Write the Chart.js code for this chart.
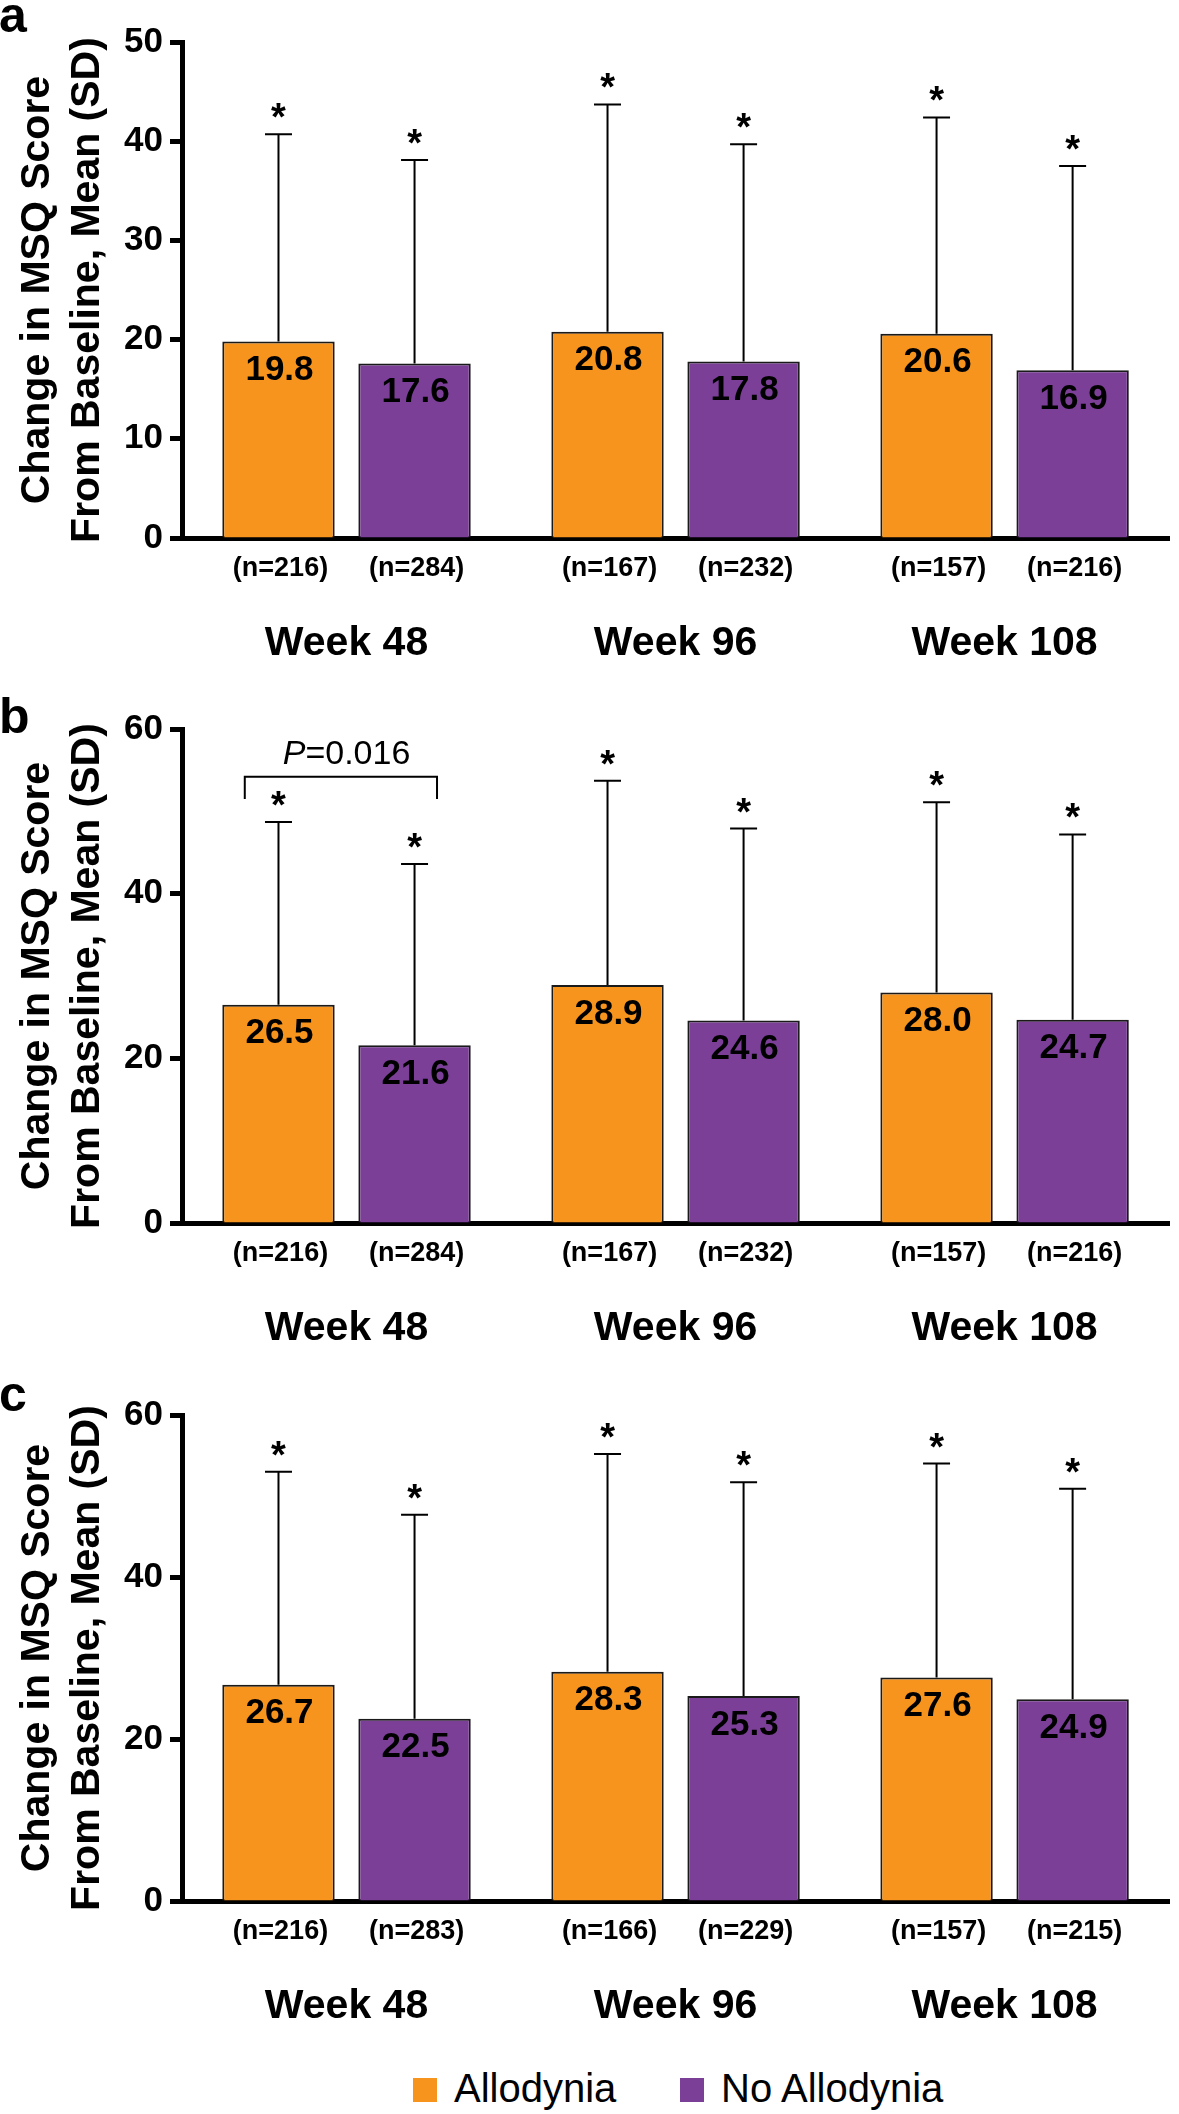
<!DOCTYPE html>
<html>
<head>
<meta charset="utf-8">
<title>MSQ change by allodynia status</title>
<script src="https://cdn.jsdelivr.net/npm/chart.js@4.4.1/dist/chart.umd.min.js"></script>
<style>
  html, body { margin: 0; padding: 0; background: #fff; }
  body { position: relative; width: 1179px; height: 2114px; overflow: hidden; font-family: 'Liberation Sans', Arial, sans-serif; }
  canvas { position: absolute; left: 0; }
  .leg-box { position: absolute; width: 24px; height: 24px; top: 2078px; }
  .leg-txt { position: absolute; top: 2068px; font-size: 40px; line-height: 40px; color: #000; white-space: nowrap; }
</style>
</head>
<body>
<canvas id="chartA" width="1179" height="680" style="top:0px"></canvas>
<canvas id="chartB" width="1179" height="680" style="top:690px"></canvas>
<canvas id="chartC" width="1179" height="665" style="top:1375px"></canvas>

<div class="leg-box" style="left:413px;background:#F7941D"></div>
<div class="leg-txt" style="left:454px">Allodynia</div>
<div class="leg-box" style="left:680px;background:#7B3F98"></div>
<div class="leg-txt" style="left:721px">No Allodynia</div>

<script>
/* ===== Daten ===== */
const WEEKS = ['Week 48', 'Week 96', 'Week 108'];

// Panel a
const A_ALLO_MEAN = [19.8, 20.8, 20.6];
const A_ALLO_SD   = [20.9, 22.9, 21.8];
const A_NO_MEAN   = [17.6, 17.8, 16.9];
const A_NO_SD     = [20.5, 21.9, 20.6];
const A_ALLO_N    = [216, 167, 157];
const A_NO_N      = [284, 232, 216];
const A_Y_TICKS   = [0, 10, 20, 30, 40, 50];

// Panel b
const B_ALLO_MEAN = [26.5, 28.9, 28.0];
const B_ALLO_SD   = [22.2, 24.8, 23.1];
const B_NO_MEAN   = [21.6, 24.6, 24.7];
const B_NO_SD     = [22.0, 23.3, 22.5];
const B_ALLO_N    = [216, 167, 157];
const B_NO_N      = [284, 232, 216];
const B_Y_TICKS   = [0, 20, 40, 60];

// Panel c
const C_ALLO_MEAN = [26.7, 28.3, 27.6];
const C_ALLO_SD   = [26.3, 26.9, 26.4];
const C_NO_MEAN   = [22.5, 25.3, 24.9];
const C_NO_SD     = [25.2, 26.4, 26.0];
const C_ALLO_N    = [216, 166, 157];
const C_NO_N      = [283, 229, 215];
const C_Y_TICKS   = [0, 20, 40, 60];

const Y_TITLE = ['Change in MSQ Score', 'From Baseline, Mean (SD)'];

/* ---------- Theme ---------- */
const FONT = "'Liberation Sans', Arial, sans-serif";
const ORANGE = '#F7941D';
const PURPLE = '#7B3F98';
const INK = '#000';

Chart.defaults.font.family = FONT;
Chart.defaults.color = INK;

// Fehlerbalken (nur nach oben), Sterne, Werte in den Balken, n-Angaben, Panel-Buchstabe
const overlay = {
  id: 'overlay',
  afterDatasetsDraw(chart, args, opts) {
    const { ctx, chartArea } = chart;
    const y = chart.scales.y;
    ctx.save();
    ctx.fillStyle = INK;
    ctx.strokeStyle = INK;
    ctx.textAlign = 'center';
    chart.data.datasets.forEach((ds, di) => {
      const meta = chart.getDatasetMeta(di);
      meta.data.forEach((bar, i) => {
        const x = bar.x, top = bar.y;
        const errY = y.getPixelForValue(ds.data[i] + ds.sd[i]);
        ctx.lineWidth = 2;
        ctx.beginPath();
        ctx.moveTo(x, top);
        ctx.lineTo(x, errY);
        ctx.moveTo(x - 13.5, errY);
        ctx.lineTo(x + 13.5, errY);
        ctx.stroke();

        ctx.font = 'bold 38px ' + FONT;
        ctx.textBaseline = 'alphabetic';
        ctx.fillText('*', x, errY - 4);

        ctx.font = 'bold 35px ' + FONT;
        ctx.textBaseline = 'middle';
        ctx.fillText(ds.data[i].toFixed(1), x + 1, top + 29);

        ctx.font = 'bold 27px ' + FONT;
        ctx.fillText('(n=' + ds.n[i] + ')', x + 2, chartArea.bottom + 31);
      });
    });

    // Klammer mit P-Wert
    const b = opts.bracket;
    if (b) {
      const m0 = chart.getDatasetMeta(0).data[b.index];
      const m1 = chart.getDatasetMeta(1).data[b.index];
      const x0 = m0.x - m0.width * 0.3, x1 = m1.x + m1.width * 0.2;
      const yTop = y.getPixelForValue(b.top), yLeg = y.getPixelForValue(b.leg);
      ctx.lineWidth = 2;
      ctx.beginPath();
      ctx.moveTo(x0, yLeg);
      ctx.lineTo(x0, yTop);
      ctx.lineTo(x1, yTop);
      ctx.lineTo(x1, yLeg);
      ctx.stroke();

      const yt = y.getPixelForValue(b.textAt);
      const cx = chart.scales.x.getPixelForValue(b.index);
      ctx.font = 'italic 34px ' + FONT;
      const wP = ctx.measureText('P').width;
      ctx.font = '34px ' + FONT;
      const wR = ctx.measureText(b.text).width;
      const sx = cx - (wP + wR) / 2;
      ctx.textAlign = 'left';
      ctx.textBaseline = 'middle';
      ctx.font = 'italic 34px ' + FONT;
      ctx.fillText('P', sx, yt);
      ctx.font = '34px ' + FONT;
      ctx.fillText(b.text, sx + wP, yt);
    }

    ctx.font = 'bold 50px ' + FONT;
    ctx.textAlign = 'left';
    ctx.textBaseline = 'alphabetic';
    ctx.fillText(opts.letter, -1, opts.letterY);
    ctx.restore();
  },
};

function panelChart(id, o) {
  const canvas = document.getElementById(id);
  const H = canvas.height;
  return new Chart(canvas, {
    type: 'bar',
    data: {
      labels: WEEKS,
      datasets: [
        { label: 'Allodynia', data: o.alloMean, sd: o.alloSd, n: o.alloN,
          backgroundColor: ORANGE, borderColor: '#1a1a1a', borderWidth: 2 },
        { label: 'No Allodynia', data: o.noMean, sd: o.noSd, n: o.noN,
          backgroundColor: PURPLE, borderColor: '#1a1a1a', borderWidth: 2 },
      ],
    },
    options: {
      responsive: false,
      animation: false,
      events: [],
      layout: { padding: { top: o.top, left: 0, right: 2, bottom: 0 } },
      datasets: { bar: { barPercentage: 0.826, categoryPercentage: 0.827 } },
      plugins: {
        legend: { display: false },
        tooltip: { enabled: false },
        overlay: { letter: o.letter, letterY: o.letterY, bracket: o.bracket || null },
      },
      scales: {
        x: {
          grid: { display: false, drawTicks: false },
          border: { display: true, color: INK, width: 5 },
          ticks: { color: INK, font: { size: 41, weight: 'bold' }, padding: 81, maxRotation: 0 },
          afterFit: s => { s.height = H - o.bottom; },
        },
        y: {
          min: o.ticks[0],
          max: o.ticks[o.ticks.length - 1],
          afterBuildTicks: s => { s.ticks = o.ticks.map(v => ({ value: v })); },
          grid: { display: true, drawOnChartArea: false, drawTicks: true, tickLength: 12, tickWidth: 5, tickColor: INK },
          border: { display: true, color: INK, width: 5 },
          ticks: { color: INK, font: { size: 35, weight: 'bold' }, padding: 7 },
          title: {
            display: true, text: Y_TITLE, color: INK,
            font: { size: 41, weight: 'bold', lineHeight: 1.22 },
            padding: { top: 13, bottom: 0 },
          },
          afterFit: s => { s.width = 182; },
        },
      },
    },
    plugins: [overlay],
  });
}

panelChart('chartA', {
  alloMean: A_ALLO_MEAN, alloSd: A_ALLO_SD, alloN: A_ALLO_N,
  noMean: A_NO_MEAN, noSd: A_NO_SD, noN: A_NO_N,
  ticks: A_Y_TICKS, top: 42, bottom: 538, letter: 'a', letterY: 32,
});

panelChart('chartB', {
  alloMean: B_ALLO_MEAN, alloSd: B_ALLO_SD, alloN: B_ALLO_N,
  noMean: B_NO_MEAN, noSd: B_NO_SD, noN: B_NO_N,
  ticks: B_Y_TICKS, top: 39, bottom: 533, letter: 'b', letterY: 43,
  bracket: { index: 0, top: 54.2, leg: 51.5, textAt: 56.9, text: '=0.016' },
});

panelChart('chartC', {
  alloMean: C_ALLO_MEAN, alloSd: C_ALLO_SD, alloN: C_ALLO_N,
  noMean: C_NO_MEAN, noSd: C_NO_SD, noN: C_NO_N,
  ticks: C_Y_TICKS, top: 40, bottom: 526, letter: 'c', letterY: 36,
});
</script>
</body>
</html>
